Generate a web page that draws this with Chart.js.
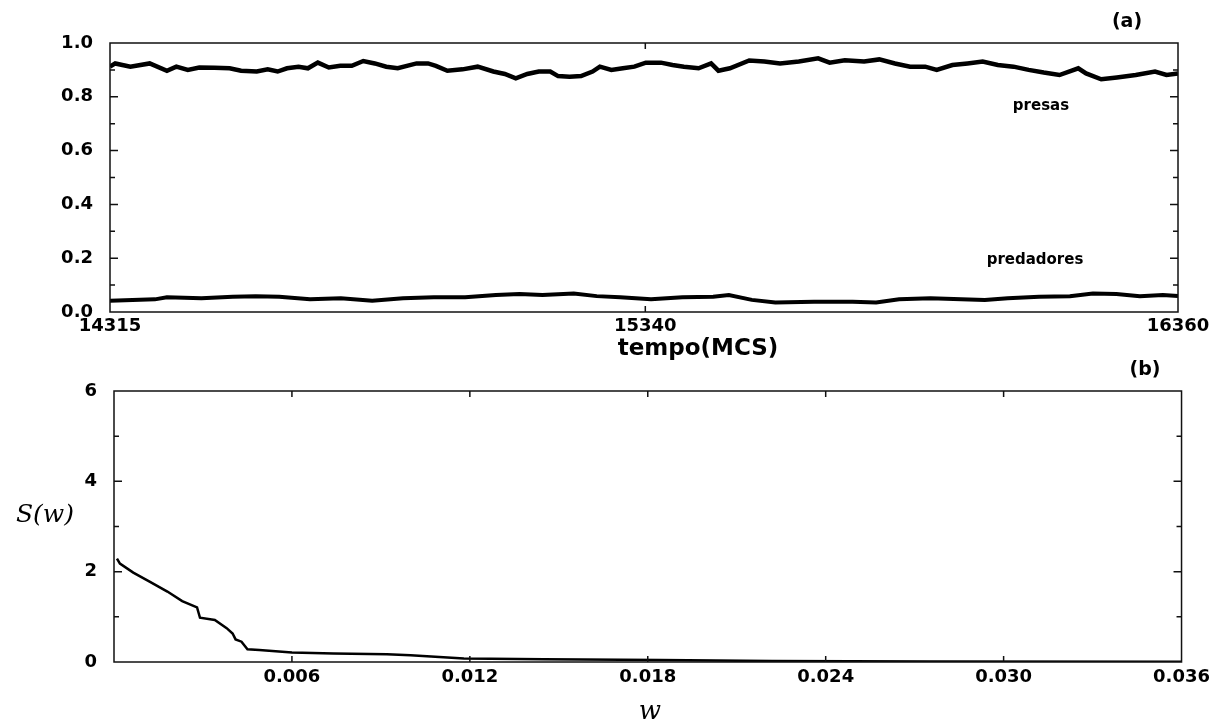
<!DOCTYPE html>
<html lang="pt">
<head>
  <meta charset="UTF-8">
  <title>presas e predadores</title>
  <script src="https://cdn.jsdelivr.net/npm/chart.js"></script>
  <style>
    body {
      margin: 0;
      background: #fff;
      width: 1215px;
      height: 723px;
      position: relative;
      overflow: hidden;
    }
    canvas {
      position: absolute;
      left: 0;
    }
    #chartA { top: 0; }
    #chartB { top: 360px; }
  </style>
</head>
<body>

<canvas id="chartA" width="1215" height="360"></canvas>
<canvas id="chartB" width="1215" height="363"></canvas>

<script>
  // painel (a): densidades vs tempo
  const tempoPresas = [14315, 14325, 14354, 14391, 14424, 14442, 14464, 14486, 14515, 14544,
    14566, 14596, 14617, 14636, 14654, 14676, 14694, 14713, 14734, 14756,
    14778, 14800, 14822, 14844, 14866, 14902, 14924, 14939, 14961, 14990,
    15019, 15049, 15071, 15092, 15114, 15136, 15158, 15173, 15195, 15217,
    15239, 15253, 15275, 15297, 15319, 15341, 15370, 15392, 15414, 15442,
    15466, 15480, 15502, 15539, 15568, 15598, 15634, 15671, 15693, 15722,
    15759, 15788, 15818, 15847, 15876, 15898, 15928, 15957, 15986, 16015,
    16045, 16074, 16103, 16133, 16169, 16184, 16213, 16243, 16279, 16316,
    16338, 16360];
  const presas = [0.912, 0.924, 0.912, 0.924, 0.897, 0.912, 0.900, 0.909, 0.908, 0.906,
    0.897, 0.894, 0.902, 0.894, 0.906, 0.912, 0.906, 0.927, 0.909, 0.915,
    0.915, 0.933, 0.924, 0.912, 0.906, 0.924, 0.924, 0.915, 0.897, 0.902,
    0.912, 0.894, 0.885, 0.869, 0.885, 0.894, 0.894, 0.877, 0.875, 0.877,
    0.894, 0.912, 0.900, 0.906, 0.912, 0.927, 0.927, 0.918, 0.912, 0.906,
    0.924, 0.897, 0.906, 0.935, 0.931, 0.924, 0.931, 0.943, 0.927, 0.936,
    0.931, 0.939, 0.924, 0.912, 0.912, 0.900, 0.918, 0.924, 0.931, 0.918,
    0.912, 0.900, 0.890, 0.881, 0.906, 0.887, 0.865, 0.872, 0.881, 0.894,
    0.881, 0.887];

  const tempoPred = [14315, 14401, 14424, 14490, 14550, 14594, 14639, 14698, 14757, 14817,
    14876, 14935, 14995, 15054, 15099, 15143, 15203, 15247, 15292, 15351,
    15411, 15470, 15500, 15544, 15589, 15663, 15737, 15782, 15826, 15886,
    15945, 15990, 16034, 16094, 16153, 16197, 16242, 16287, 16331, 16360];
  const predadores = [0.042, 0.047, 0.055, 0.051, 0.057, 0.059, 0.057, 0.047, 0.051, 0.042,
    0.051, 0.055, 0.055, 0.063, 0.067, 0.063, 0.069, 0.059, 0.055, 0.047,
    0.055, 0.057, 0.063, 0.045, 0.035, 0.038, 0.038, 0.035, 0.047, 0.051,
    0.047, 0.045, 0.051, 0.057, 0.059, 0.069, 0.067, 0.059, 0.063, 0.059];

  const ticksTempo = [14315, 15340, 16360];

  // painel (b): espectro S(w)
  const freq = [0.0001, 0.0002, 0.00065, 0.0012, 0.0018, 0.0023, 0.0028, 0.0029, 0.0034, 0.0038,
    0.0040, 0.0041, 0.0043, 0.0045, 0.0049, 0.0060, 0.0074, 0.0092, 0.0100, 0.0118,
    0.0145, 0.0184, 0.0222, 0.0275, 0.0360];
  const espectro = [2.29, 2.18, 1.98, 1.78, 1.56, 1.35, 1.21, 0.98, 0.93, 0.75,
    0.63, 0.50, 0.45, 0.28, 0.265, 0.21, 0.19, 0.17, 0.15, 0.08,
    0.06, 0.045, 0.02, 0.01, 0.005];

  const ticksFreq = [0.006, 0.012, 0.018, 0.024, 0.030, 0.036];

  const tickFont = { family: 'DejaVu Sans', weight: 'bold', size: 18 };

  function pares(xs, ys) {
    return xs.map((x, i) => ({ x: x, y: ys[i] }));
  }

  // moldura com marcas para dentro
  const moldura = {
    id: 'moldura',
    afterDraw(chart, args, opts) {
      const ctx = chart.ctx;
      const a = chart.chartArea;
      const sx = chart.scales.x, sy = chart.scales.y;
      ctx.save();
      ctx.strokeStyle = '#111';
      ctx.lineWidth = 1.5;
      ctx.strokeRect(a.left, a.top, a.right - a.left, a.bottom - a.top);
      ctx.beginPath();
      (opts.yMajor || []).forEach(v => {
        const p = sy.getPixelForValue(v);
        ctx.moveTo(a.left, p); ctx.lineTo(a.left + 8, p);
        ctx.moveTo(a.right, p); ctx.lineTo(a.right - 8, p);
      });
      (opts.yMinor || []).forEach(v => {
        const p = sy.getPixelForValue(v);
        ctx.moveTo(a.left, p); ctx.lineTo(a.left + 5, p);
        ctx.moveTo(a.right, p); ctx.lineTo(a.right - 5, p);
      });
      (opts.xMajor || []).forEach(v => {
        const p = sx.getPixelForValue(v);
        ctx.moveTo(p, a.top); ctx.lineTo(p, a.top + 6);
        ctx.moveTo(p, a.bottom); ctx.lineTo(p, a.bottom - 6);
      });
      ctx.stroke();

      (opts.textos || []).forEach(t => {
        ctx.font = t.font;
        ctx.fillStyle = '#000';
        ctx.textAlign = 'center';
        ctx.textBaseline = 'middle';
        ctx.fillText(t.text, t.x, t.y);
      });
      ctx.restore();
    }
  };

  new Chart(document.getElementById('chartA'), {
    type: 'line',
    data: {
      datasets: [
        { data: pares(tempoPresas, presas), borderColor: '#000', borderWidth: 4.5, pointRadius: 0, tension: 0 },
        { data: pares(tempoPred, predadores), borderColor: '#000', borderWidth: 4, pointRadius: 0, tension: 0 }
      ]
    },
    options: {
      responsive: false,
      animation: false,
      layout: { padding: { top: 43, right: 37, left: 0, bottom: 0 } },
      plugins: {
        legend: { display: false },
        tooltip: { enabled: false },
        moldura: {
          yMajor: [0.2, 0.4, 0.6, 0.8],
          yMinor: [0.1, 0.3, 0.5, 0.7, 0.9],
          xMajor: [15340],
          textos: [
            { text: '(a)', x: 1127, y: 22, font: 'bold 19px "DejaVu Sans"' },
            { text: 'presas', x: 1041, y: 106, font: 'bold 15px "DejaVu Sans"' },
            { text: 'predadores', x: 1035, y: 260, font: 'bold 15px "DejaVu Sans"' },
            { text: 'tempo(MCS)', x: 698, y: 349, font: 'bold 23px "DejaVu Sans"' }
          ]
        }
      },
      scales: {
        x: {
          type: 'linear',
          min: 14315,
          max: 16360,
          grid: { display: false, drawTicks: false },
          border: { display: false },
          afterBuildTicks: s => { s.ticks = ticksTempo.map(v => ({ value: v })); },
          afterFit: s => { s.height = 48; },
          ticks: { autoSkip: false, maxRotation: 0, padding: 4, color: '#000', font: tickFont,
                   callback: v => String(v) }
        },
        y: {
          min: 0,
          max: 1,
          grid: { display: false, drawTicks: false },
          border: { display: false },
          afterFit: s => { s.width = 110; },
          ticks: { stepSize: 0.2, padding: 17, color: '#000', font: tickFont,
                   callback: v => v.toFixed(1) }
        }
      }
    },
    plugins: [moldura]
  });

  new Chart(document.getElementById('chartB'), {
    type: 'line',
    data: {
      datasets: [
        { data: pares(freq, espectro), borderColor: '#000', borderWidth: 2.5, pointRadius: 0, tension: 0 }
      ]
    },
    options: {
      responsive: false,
      animation: false,
      layout: { padding: { top: 31, right: 33, left: 0, bottom: 0 } },
      plugins: {
        legend: { display: false },
        tooltip: { enabled: false },
        moldura: {
          yMajor: [2, 4],
          yMinor: [1, 3, 5],
          xMajor: [0.006, 0.012, 0.018, 0.024, 0.030],
          textos: [
            { text: '(b)', x: 1145, y: 10, font: 'bold 19px "DejaVu Sans"' },
            { text: 'S(w)', x: 45, y: 155, font: 'italic 25px "DejaVu Serif"' },
            { text: 'w', x: 650, y: 352, font: 'italic 26px "DejaVu Serif"' }
          ]
        }
      },
      scales: {
        x: {
          type: 'linear',
          min: 0,
          max: 0.036,
          grid: { display: false, drawTicks: false },
          border: { display: false },
          afterBuildTicks: s => { s.ticks = ticksFreq.map(v => ({ value: v })); },
          afterFit: s => { s.height = 61; },
          ticks: { autoSkip: false, maxRotation: 0, padding: 5, color: '#000', font: tickFont,
                   callback: v => v.toFixed(3) }
        },
        y: {
          min: 0,
          max: 6,
          grid: { display: false, drawTicks: false },
          border: { display: false },
          afterFit: s => { s.width = 114; },
          ticks: { stepSize: 2, padding: 17, color: '#000', font: tickFont }
        }
      }
    },
    plugins: [moldura]
  });
</script>

</body>
</html>
